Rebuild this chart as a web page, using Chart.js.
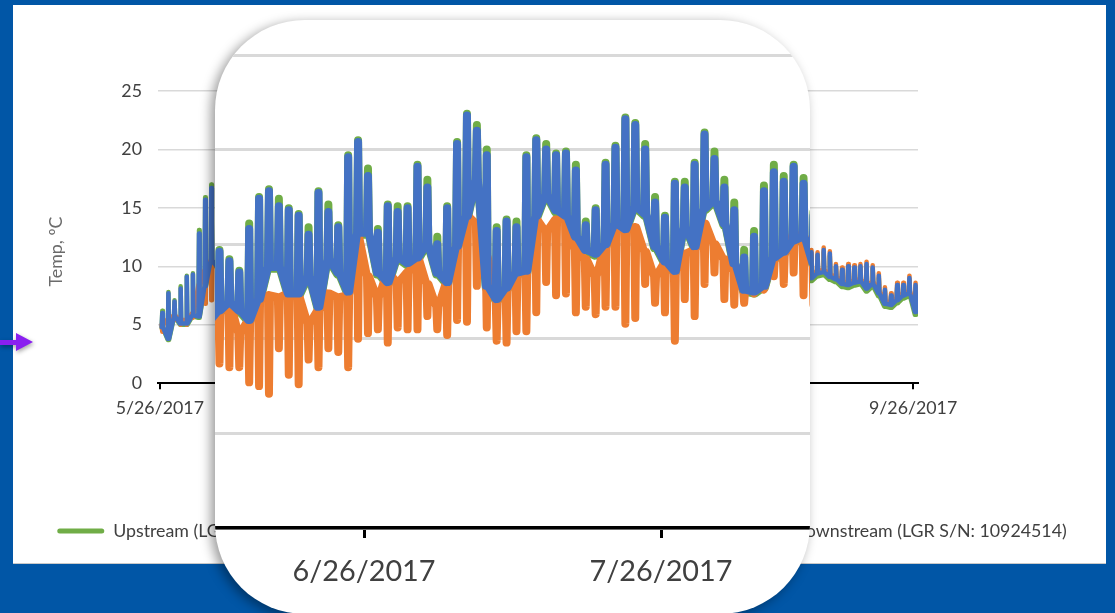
<!DOCTYPE html>
<html>
<head>
<meta charset="utf-8">
<script src="https://cdn.jsdelivr.net/npm/chart.js@4.4.1/dist/chart.umd.min.js"></script>
<style>
  html, body { margin: 0; padding: 0; }
  body { width: 1115px; height: 613px; background: #0156a6; position: relative; overflow: hidden; }
  #panel { position: absolute; left: 13px; top: 5px; width: 1093px; height: 558px; background: #fff; border-bottom: 1px solid #c9c9c9; }
  #baseChart { position: absolute; left: 13px; top: 0; }
  #arrow { position: absolute; left: 0; top: 330px; filter: drop-shadow(1px 2px 2px rgba(0,0,0,0.35)); }
  #lens { position: absolute; left: 215px; top: 20px; width: 595px; height: 594px; border-radius: 90px; overflow: hidden; background: #fff; box-shadow: -4px 3px 12px rgba(0,0,0,0.4); }
  #zoomChart { position: absolute; left: -215px; top: -20px; }
</style>
</head>
<body>
<div id="panel"></div>
<canvas id="baseChart" width="1098" height="613"></canvas>
<svg id="arrow" width="40" height="24"><rect x="0" y="10" width="18" height="5" fill="#8a1ff0"/><polygon points="16,3 33,12 16,21" fill="#8a1ff0"/></svg>
<div id="lens"><canvas id="zoomChart" width="1115" height="633"></canvas></div>
<script>
// x axis: days after 5/26/2017
const tickDays = [0, 31, 61, 92, 123];
const tickLabels = ["5/26/2017", "6/26/2017", "7/26/2017", "8/26/2017", "9/26/2017"];
const seriesNames = ["Upstream (LGR S/N: 10924512)", "Midstream (LGR S/N: 10924513)", "Downstream (LGR S/N: 10924514)"];
const seriesColors = ["#70ad47", "#ed7d31", "#4472c4"];

// one pair per day: level held through the day, and the daily extreme it swings to
const upBase = [4.7, 3.7, 5.6, 5.0, 5.0, 5.7, 5.6, 8.2, 10.4, 9.9,
  9.4, 8.9, 9.1, 9.9, 10.4, 10.9, 11.4, 11.8, 11.4, 10.9,
  12.0, 13.7, 13.7, 12.3, 12.3, 13.2, 11.6, 14.1, 13.4, 12.4,
  15.5, 15.5, 13.4, 12.9, 14.2, 13.9, 14.2, 14.9, 13.4, 12.9,
  14.8, 16.4, 18.3, 12.7, 12.0, 12.6, 13.4, 13.5, 16.4, 17.5,
  16.7, 16.4, 15.3, 14.6, 14.4, 14.9, 16.0, 15.7, 16.9, 16.5,
  14.8, 14.0, 13.5, 15.8, 14.8, 16.8, 17.2, 16.0, 13.9, 12.5,
  12.4, 12.7, 14.2, 14.5, 15.1, 15.3, 13.9, 14.4, 14.9, 13.9,
  13.4, 13.9, 14.4, 13.4, 12.9, 12.4, 12.9, 13.4, 12.4, 11.9,
  11.9, 12.4, 11.9, 11.4, 11.4, 11.9, 11.25, 10.75, 10.25, 10.55,
  10.75, 10.25, 9.75, 9.95, 9.55, 9.25, 8.75, 9.15, 9.25, 8.85,
  8.65, 8.25, 8.15, 8.35, 8.45, 7.85, 8.25, 7.45, 6.55, 6.45,
  6.85, 7.25, 7.45, 5.85];
const upPeak = [6.2, 7.8, 7.1, 8.3, 9.2, 9.4, 13.1, 15.9, 17.0, 15.2,
  13.7, 12.2, 12.7, 14.2, 15.2, 14.2, 14.7, 14.2, 13.6, 16.1,
  17.5, 17.9, 17.4, 16.9, 16.6, 15.9, 17.8, 17.1, 16.0, 19.7,
  20.5, 19.0, 15.8, 17.1, 17.0, 17.0, 19.2, 18.4, 15.4, 17.0,
  20.4, 21.9, 21.3, 20.0, 15.9, 16.3, 16.2, 19.7, 20.6, 20.3,
  19.8, 19.9, 19.2, 16.2, 16.9, 19.3, 20.2, 21.7, 21.4, 20.3,
  17.5, 16.5, 18.3, 18.3, 19.3, 20.9, 19.9, 18.4, 17.2, 14.7,
  15.7, 18.1, 19.2, 18.6, 19.2, 18.5, 16.7, 17.7, 18.2, 16.2,
  15.7, 17.2, 17.7, 16.2, 15.2, 14.7, 15.7, 16.2, 14.7, 13.7,
  14.2, 14.7, 13.7, 13.2, 13.6, 14.1, 12.9, 12.4, 11.9, 12.4,
  12.6, 11.9, 11.4, 11.6, 11.4, 11.0, 11.0, 10.9, 11.2, 10.9,
  9.9, 9.6, 9.8, 9.8, 9.9, 10.0, 9.8, 9.0, 7.9, 7.4,
  8.2, 8.3, 8.8, 8.2];
const midBase = [5.0, 5.5, 5.8, 5.4, 5.4, 6.0, 8.4, 9.7, 10.5, 10.0,
  9.5, 9.0, 9.2, 10.0, 10.5, 11.0, 11.5, 11.9, 10.3, 11.0,
  12.1, 12.3, 12.2, 12.4, 12.2, 10.8, 11.5, 12.4, 12.2, 12.3,
  15.4, 13.3, 12.2, 13.5, 13.0, 13.5, 14.3, 12.9, 11.7, 13.0,
  14.9, 16.5, 16.1, 14.3, 12.1, 12.6, 13.5, 13.6, 16.3, 15.7,
  16.3, 16.4, 14.7, 14.2, 13.3, 15.0, 16.0, 15.8, 15.9, 14.6,
  13.3, 14.0, 13.6, 14.5, 14.7, 16.1, 15.0, 14.2, 13.6, 12.6,
  12.5, 12.8, 14.3, 14.5, 15.5, 15.4, 14.0, 14.5, 14.8, 13.8,
  13.5, 14.0, 14.3, 13.5, 13.0, 12.6, 13.0, 13.5, 12.6, 12.2,
  10.8, 11.2, 10.8, 10.5, 10.6, 11.0, 10.6, 10.3, 10.0, 10.3,
  10.6, 10.2, 9.8, 10.0, 9.7, 9.5, 9.2, 9.6, 9.7, 9.3,
  9.1, 8.7, 8.6, 8.8, 8.9, 8.3, 8.7, 7.9, 7.0, 6.9,
  7.3, 7.7, 7.9, 6.3];
const midPeak = [4.4, 4.0, 5.4, 5.0, 5.0, 5.6, 6.8, 6.8, 7.1, 6.5,
  6.0, 5.5, 6.2, 7.0, 7.5, 8.0, 8.7, 8.5, 8.5, 7.7,
  7.5, 7.1, 9.5, 8.1, 7.6, 8.9, 8.5, 9.5, 9.3, 8.5,
  10.0, 10.3, 10.5, 9.8, 10.6, 10.5, 10.5, 11.2, 10.5, 10.2,
  11.0, 10.9, 12.8, 10.6, 9.9, 9.8, 10.4, 10.4, 11.4, 13.0,
  12.3, 12.4, 11.4, 11.7, 11.3, 11.7, 11.7, 10.8, 11.1, 12.9,
  11.9, 11.4, 9.9, 12.1, 11.2, 12.9, 13.5, 12.1, 11.8, 11.9,
  12.4, 12.6, 13.3, 12.9, 13.5, 12.3, 11.8, 12.0, 12.2, 11.8,
  11.5, 11.8, 12.0, 11.5, 11.2, 11.0, 11.2, 11.5, 11.0, 10.8,
  12.5, 13.0, 12.4, 12.0, 12.3, 12.8, 12.2, 11.8, 11.5, 11.9,
  12.2, 11.6, 11.2, 11.5, 11.3, 11.2, 11.4, 11.2, 11.6, 11.3,
  10.2, 9.9, 10.2, 10.1, 10.2, 10.4, 10.1, 9.4, 8.2, 7.7,
  8.6, 8.6, 9.2, 8.6];
const downBase = [4.8, 3.8, 5.7, 5.1, 5.1, 5.8, 5.7, 8.3, 10.5, 10.0,
  9.5, 9.0, 9.2, 10.0, 10.5, 11.0, 11.5, 11.9, 11.5, 11.0,
  12.1, 13.8, 13.8, 12.4, 12.4, 13.3, 11.7, 14.2, 13.5, 12.5,
  15.6, 15.6, 13.5, 13.0, 14.3, 14.0, 14.3, 15.0, 13.5, 13.0,
  14.9, 16.5, 18.4, 12.8, 12.1, 12.7, 13.5, 13.6, 16.5, 17.6,
  16.8, 16.5, 15.4, 14.7, 14.5, 15.0, 16.1, 15.8, 17.0, 16.6,
  14.9, 14.1, 13.6, 15.9, 14.9, 16.9, 17.3, 16.1, 14.0, 12.6,
  12.5, 12.8, 14.3, 14.6, 15.2, 15.4, 14.0, 14.5, 15.0, 14.0,
  13.5, 14.0, 14.5, 13.5, 13.0, 12.5, 13.0, 13.5, 12.5, 12.0,
  12.0, 12.5, 12.0, 11.5, 11.5, 12.0, 11.5, 11.0, 10.5, 10.8,
  11.0, 10.5, 10.0, 10.2, 9.8, 9.5, 9.0, 9.4, 9.5, 9.1,
  8.9, 8.5, 8.4, 8.6, 8.7, 8.1, 8.5, 7.7, 6.8, 6.7,
  7.1, 7.5, 7.7, 6.1];
const downPeak = [6.0, 7.7, 7.0, 8.1, 9.1, 9.3, 12.8, 15.7, 16.7, 15.0,
  13.5, 12.0, 12.5, 14.0, 15.0, 14.0, 14.6, 14.1, 13.5, 15.8,
  17.4, 17.8, 17.0, 16.8, 16.5, 15.5, 17.7, 16.7, 15.9, 19.6,
  20.4, 18.6, 15.6, 17.0, 16.7, 16.9, 19.1, 18.0, 15.0, 16.9,
  20.3, 21.8, 21.0, 19.7, 15.7, 16.2, 15.9, 19.6, 20.5, 20.0,
  19.7, 19.8, 18.9, 16.0, 16.8, 19.2, 20.1, 21.6, 21.3, 20.0,
  17.2, 16.4, 18.2, 18.0, 19.2, 20.8, 19.5, 18.0, 16.8, 14.3,
  15.4, 17.8, 18.8, 18.3, 19.1, 18.2, 16.5, 17.5, 18.0, 16.0,
  15.5, 17.0, 17.5, 16.0, 15.0, 14.5, 15.5, 16.0, 14.5, 13.5,
  14.0, 14.5, 13.5, 13.0, 13.5, 14.0, 13.0, 12.5, 12.0, 12.5,
  12.8, 12.0, 11.5, 11.8, 11.5, 11.2, 11.2, 11.0, 11.4, 11.1,
  10.0, 9.7, 10.0, 9.9, 10.0, 10.2, 9.9, 9.2, 8.0, 7.5,
  8.4, 8.4, 9.0, 8.4];
const days = downBase.map((_, i) => i);

// each day: hold the base level, swing to the extreme and back
function dailyPoints(base, peak) {
  const pts = [];
  days.forEach((d, i) => {
    pts.push({ x: d + 0.3, y: base[i] }, { x: d + 0.4, y: peak[i] }, { x: d + 0.5, y: base[i] });
  });
  return pts;
}

function makeDatasets(width) {
  const pairs = [[upBase, upPeak], [midBase, midPeak], [downBase, downPeak]];
  return pairs.map((p, i) => ({
    label: seriesNames[i],
    data: dailyPoints(p[0], p[1]),
    borderColor: seriesColors[i],
    backgroundColor: seriesColors[i],
    borderWidth: width,
    borderCapStyle: 'round',
    borderJoinStyle: 'round',
    pointRadius: 0,
    tension: 0,
    order: 3 - i
  }));
}

const labelFont = { family: 'Lato, sans-serif', size: 17.8 };
const tickColor = '#404040';

new Chart(document.getElementById("baseChart"), {
  type: 'line',
  data: { datasets: makeDatasets(4.5) },
  options: {
    responsive: false,
    animation: false,
    events: [],
    layout: { autoPadding: false, padding: { top: 91, left: 0, right: 0, bottom: 63 } },
    plugins: {
      tooltip: { enabled: false },
      legend: {
        position: 'bottom',
        labels: {
          font: labelFont,
          color: tickColor,
          boxWidth: 47,
          boxHeight: 5,
          padding: 30,
          useBorderRadius: true,
          borderRadius: 2.5,
          sort: (a, b) => a.datasetIndex - b.datasetIndex,
          generateLabels: chart => Chart.defaults.plugins.legend.labels.generateLabels(chart)
            .map(l => Object.assign(l, { fillStyle: l.strokeStyle, lineWidth: 0 }))
        }
      }
    },
    scales: {
      x: {
        type: 'linear',
        min: -0.3,
        max: 123.8,
        afterBuildTicks: s => { s.ticks = tickDays.map(v => ({ value: v })); },
        afterFit: s => { s.height = 109; },
        ticks: {
          callback: v => tickLabels[tickDays.indexOf(v)],
          font: labelFont, color: tickColor, padding: 8, maxRotation: 0, autoSkip: false
        },
        grid: { drawOnChartArea: false, tickLength: 6, color: '#000', lineWidth: 2 },
        border: { color: '#000', width: 2 }
      },
      y: {
        min: 0,
        max: 25,
        afterFit: s => { s.width = 145; },
        ticks: { stepSize: 5, font: labelFont, color: tickColor, padding: 16 },
        grid: { color: '#d9d9d9', lineWidth: 1.5, drawTicks: false },
        border: { display: false },
        title: {
          display: true,
          text: 'Temp, ºC\u2003\u2003\u2009',
          font: labelFont,
          color: '#6b6b6b',
          padding: { top: 33, bottom: 0 }
        }
      },
      spacer: {
        type: 'linear', axis: 'y', position: 'right',
        afterFit: s => { s.width = 193; },
        ticks: { display: false }, grid: { display: false }, border: { display: false }
      }
    }
  }
});

// magnified view inside the lens
new Chart(document.getElementById("zoomChart"), {
  type: 'line',
  data: { datasets: makeDatasets(8) },
  options: {
    responsive: false,
    animation: false,
    events: [],
    layout: { autoPadding: false, padding: { top: 55, left: 0, right: 0, bottom: 0 } },
    plugins: { tooltip: { enabled: false }, legend: { display: false } },
    scales: {
      x: {
        type: 'linear',
        min: -5.77,
        max: 106.86,
        afterBuildTicks: s => { s.ticks = tickDays.filter(v => v >= s.min + 10 && v <= s.max - 10).map(v => ({ value: v })); },
        afterFit: s => { s.height = 105; },
        ticks: {
          callback: v => tickLabels[tickDays.indexOf(v)],
          font: { family: 'Lato, sans-serif', size: 28.8 }, color: tickColor, padding: 16, maxRotation: 0, autoSkip: false
        },
        grid: { drawOnChartArea: false, tickLength: 10, color: '#000', lineWidth: 3 },
        border: { color: '#000', width: 3.5 }
      },
      y: {
        min: 0,
        max: 25,
        afterFit: s => { s.width = 0; },
        ticks: { display: false, stepSize: 5 },
        grid: { color: '#d9d9d9', lineWidth: 3, drawTicks: false },
        border: { display: false }
      }
    }
  }
});
</script>
</body>
</html>
